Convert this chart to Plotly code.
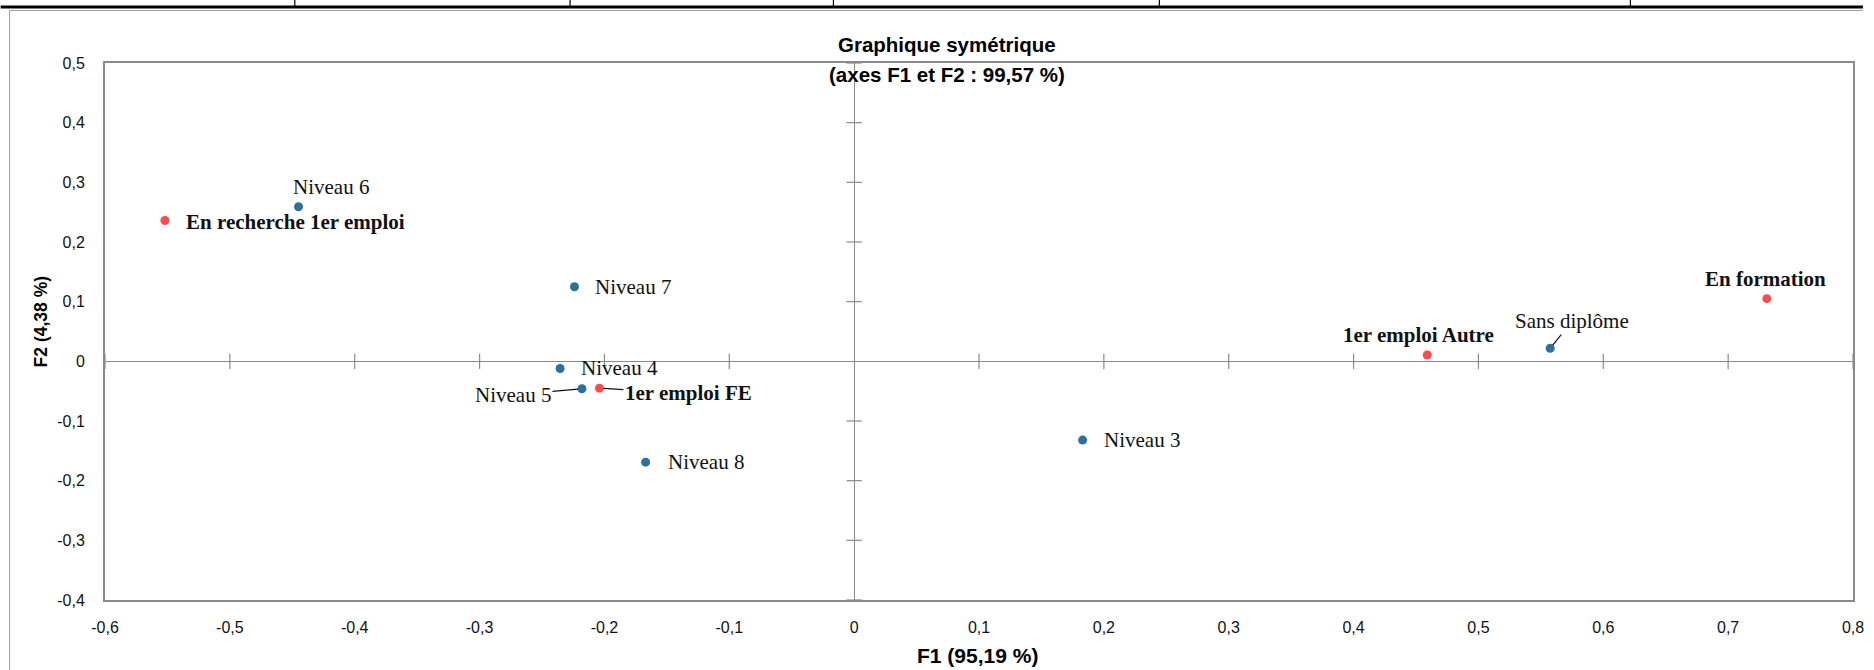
import plotly.graph_objects as go

# ---------- data ----------
# column points (diploma level) - blue
col_labels = ["Niveau 3", "Niveau 4", "Niveau 5", "Niveau 6", "Niveau 7", "Niveau 8", "Sans diplôme"]
col_f1 = [0.183, -0.2355, -0.218, -0.445, -0.224, -0.167, 0.5575]
col_f2 = [-0.132, -0.012, -0.046, 0.259, 0.125, -0.169, 0.022]

# row points (situation) - red, bold labels
row_labels = ["1er emploi Autre", "1er emploi FE", "En formation", "En recherche 1er emploi"]
row_f1 = [0.459, -0.204, 0.731, -0.552]
row_f2 = [0.0106, -0.045, 0.105, 0.236]

x_tickvals = [-0.6, -0.5, -0.4, -0.3, -0.2, -0.1, 0, 0.1, 0.2, 0.3, 0.4, 0.5, 0.6, 0.7, 0.8]
x_ticktext = ["-0,6", "-0,5", "-0,4", "-0,3", "-0,2", "-0,1", "0", "0,1", "0,2", "0,3", "0,4", "0,5", "0,6", "0,7", "0,8"]
y_tickvals = [-0.4, -0.3, -0.2, -0.1, 0, 0.1, 0.2, 0.3, 0.4, 0.5]
y_ticktext = ["-0,4", "-0,3", "-0,2", "-0,1", "0", "0,1", "0,2", "0,3", "0,4", "0,5"]

title_lines = ["Graphique symétrique", "(axes F1 et F2 : 99,57 %)"]
x_title = "F1 (95,19 %)"
y_title = "F2 (4,38 %)"

# ---------- styles ----------
W, H = 1874, 670
ML, MR, MT, MB = 105, 10, 63, 70
BLUE = "#2B7199"
RED = "#FF4B4B"
AXIS_GREY = "#8A8A8A"
SANS = "Liberation Sans"
SERIF = "Liberation Serif"

# label placement: (xanchor, xshift, yshift) or ("arrow", ax, ay)
label_pos = {
    "Niveau 3": ("left", 19, 0),
    "Niveau 4": ("left", 19, 0),
    "Niveau 5": ("arrow", -69, 6),
    "Niveau 6": ("center", 32, 20),
    "Niveau 7": ("left", 19, 0),
    "Niveau 8": ("left", 20, 0),
    "Sans diplôme": ("arrow", 22, -27),
    "1er emploi Autre": ("center", -9, 20),
    "1er emploi FE": ("arrow", 89, 5),
    "En formation": ("center", -1, 20),
    "En recherche 1er emploi": ("left", 19, -1),
}

PW = W - ML - MR
PH = H - MT - MB


def px_x(px):
    return (px - ML) / PW


def px_y(py):
    return (H - MB - py) / PH


def point_label(text, x, y, bold):
    kind, a, b = label_pos[text]
    txt = f"<b>{text}</b>" if bold else text
    font = dict(family=SERIF, size=21, color="#111")
    if kind == "arrow":
        return dict(x=x, y=y, xref="x", yref="y", text=txt, font=font,
                    showarrow=True, arrowhead=0, arrowwidth=1.2, arrowcolor="#111",
                    ax=a, ay=b, standoff=4)
    return dict(x=x, y=y, xref="x", yref="y", text=txt, font=font, showarrow=False,
                xanchor=kind, yanchor="middle", xshift=a, yshift=b)


fig = go.Figure()

# cross tick marks on the zero lines
fig.add_trace(go.Scatter(
    x=[v for v in x_tickvals if v != 0], y=[0] * (len(x_tickvals) - 1),
    mode="markers", hoverinfo="skip", cliponaxis=False,
    marker=dict(symbol="line-ns-open", size=11, color=AXIS_GREY,
                line=dict(color=AXIS_GREY, width=1.2)),
))
fig.add_trace(go.Scatter(
    x=[0] * (len(y_tickvals) - 1), y=[v for v in y_tickvals if v != 0],
    mode="markers", hoverinfo="skip", cliponaxis=False,
    marker=dict(symbol="line-ew-open", size=11, color=AXIS_GREY,
                line=dict(color=AXIS_GREY, width=1.2)),
))

fig.add_trace(go.Scatter(x=col_f1, y=col_f2, mode="markers", text=col_labels,
                         marker=dict(color=BLUE, size=9)))
fig.add_trace(go.Scatter(x=row_f1, y=row_f2, mode="markers", text=row_labels,
                         marker=dict(color=RED, size=9)))

annotations = []
for t, x, y in zip(col_labels, col_f1, col_f2):
    annotations.append(point_label(t, x, y, False))
for t, x, y in zip(row_labels, row_f1, row_f2):
    annotations.append(point_label(t, x, y, True))

# title (two lines) and axis titles
annotations.append(dict(x=px_x(952), y=px_y(45), xref="paper", yref="paper", showarrow=False,
                        text=f"<b>{title_lines[0]}</b>", xanchor="center", yanchor="middle",
                        font=dict(family=SANS, size=20.5, color="#000")))
annotations.append(dict(x=px_x(952), y=px_y(75), xref="paper", yref="paper", showarrow=False,
                        text=f"<b>{title_lines[1]}</b>", xanchor="center", yanchor="middle",
                        font=dict(family=SANS, size=20.5, color="#000")))
annotations.append(dict(x=px_x(983), y=px_y(655), xref="paper", yref="paper", showarrow=False,
                        text=f"<b>{x_title}</b>", xanchor="center", yanchor="middle",
                        font=dict(family=SANS, size=21, color="#000")))
annotations.append(dict(x=px_x(41), y=px_y(322), xref="paper", yref="paper", showarrow=False,
                        text=f"<b>{y_title}</b>", xanchor="center", yanchor="middle", textangle=-90,
                        font=dict(family=SANS, size=17.5, color="#000")))

# page decoration around the chart (table border above, chart frame at left)
shapes = [
    dict(type="line", xref="paper", yref="paper", x0=px_x(0), x1=px_x(W), y0=px_y(7), y1=px_y(7),
         line=dict(color="#000", width=3)),
    dict(type="line", xref="paper", yref="paper", x0=px_x(9), x1=px_x(W), y0=px_y(10.5), y1=px_y(10.5),
         line=dict(color="#A0A0A0", width=1)),
    dict(type="line", xref="paper", yref="paper", x0=px_x(9), x1=px_x(9), y0=px_y(10.5), y1=px_y(H),
         line=dict(color="#A0A0A0", width=1)),
]
for cx in [296, 573, 838, 1166, 1640]:
    shapes.append(dict(type="line", xref="paper", yref="paper", x0=px_x(cx), x1=px_x(cx),
                       y0=px_y(0), y1=px_y(7), line=dict(color="#000", width=1.2)))

fig.update_layout(
    width=W, height=H,
    margin=dict(l=ML, r=MR, t=MT, b=MB),
    paper_bgcolor="white", plot_bgcolor="white",
    showlegend=False,
    annotations=annotations,
    shapes=shapes,
    xaxis=dict(range=[-0.6, 0.8], tickvals=x_tickvals, ticktext=x_ticktext,
               showgrid=False, zeroline=True, zerolinecolor=AXIS_GREY, zerolinewidth=1.2,
               showline=True, mirror=True, linecolor=AXIS_GREY, linewidth=2,
               ticks="outside", ticklen=12, tickcolor="rgba(0,0,0,0)",
               ticklabeloverflow="allow",
               tickfont=dict(family=SANS, size=16, color="#111")),
    yaxis=dict(range=[-0.4, 0.5], tickvals=y_tickvals, ticktext=y_ticktext,
               showgrid=False, zeroline=True, zerolinecolor=AXIS_GREY, zerolinewidth=1.2,
               showline=True, mirror=True, linecolor=AXIS_GREY, linewidth=2,
               ticks="outside", ticklen=15, tickcolor="rgba(0,0,0,0)",
               tickfont=dict(family=SANS, size=16, color="#111")),
)

# drop the browser's default page margin / scrollbars so the figure fills the window exactly
fig.write_html(
    "out.html",
    config={"displayModeBar": False},
    post_script="document.body.style.margin='0';document.body.style.overflow='hidden';"
                "document.documentElement.style.overflow='hidden';",
)
